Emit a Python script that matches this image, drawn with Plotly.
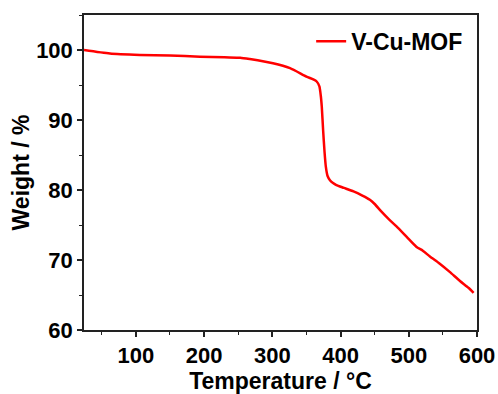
import plotly.graph_objects as go

temperature = [24, 62, 106, 150, 194, 230, 253, 267, 301, 326, 350, 360, 365, 369,
               371, 372.5, 374.5, 376.5, 378.5, 381, 384.5, 389, 394, 405, 419, 432,
               443, 450, 460, 471, 482, 497, 511, 521, 531, 545, 560, 575, 588, 595]
weight = [100, 99.5, 99.3, 99.2, 99.05, 98.95, 98.9, 98.7, 98.1, 97.4, 96.2, 95.8,
          95.5, 94.8, 93.5, 91.9, 88.5, 85.5, 83.3, 82.0, 81.4, 81.0, 80.7, 80.3,
          79.8, 79.2, 78.6, 78.0, 76.9, 75.8, 74.8, 73.3, 71.9, 71.3, 70.5, 69.5,
          68.3, 67.0, 66.0, 65.3]
series_name = "V-Cu-MOF"
x_title = "Temperature / °C"
y_title = "Weight / %"

FONT = "Liberation Sans, Arial, sans-serif"

fig = go.Figure()
fig.add_trace(go.Scatter(x=temperature, y=weight, mode="lines", name=series_name,
                         line=dict(color="#ff0000", width=2.5, shape="spline", smoothing=0.6)))

axis_common = dict(
    showline=True, linecolor="#222222", linewidth=1.5, mirror=True,
    ticks="outside", ticklen=5, tickwidth=1.5, tickcolor="#222222",
    showgrid=False, zeroline=False, automargin=False,
    tickfont=dict(family=FONT, size=22, color="black", weight="bold"),
)

fig.update_xaxes(
    range=[24, 600], tick0=0, dtick=100,
    title=dict(text=x_title, font=dict(family=FONT, size=23, color="black", weight="bold"), standoff=6),
    minor=dict(ticks="outside", ticklen=3, dtick=50, tick0=0, tickcolor="#222222", tickwidth=1.2),
    **axis_common,
)
fig.update_yaxes(
    range=[60, 105], tick0=60, dtick=10,
    title=dict(text=y_title, font=dict(family=FONT, size=23, color="black", weight="bold"), standoff=0),
    minor=dict(ticks="outside", ticklen=3, dtick=5, tick0=60, tickcolor="#222222", tickwidth=1.2),
    **axis_common,
)

fig.update_layout(
    width=498, height=394,
    margin=dict(l=84, r=21, t=15, b=64),
    paper_bgcolor="white", plot_bgcolor="white",
    showlegend=True,
    legend=dict(x=0.578, y=0.985, xanchor="left", yanchor="top",
                font=dict(family=FONT, size=23, color="black", weight="bold"),
                bgcolor="rgba(0,0,0,0)", borderwidth=0),
)

fig.write_html("out.html", config={"displayModeBar": False},
               post_script="document.body.style.margin='0';")
